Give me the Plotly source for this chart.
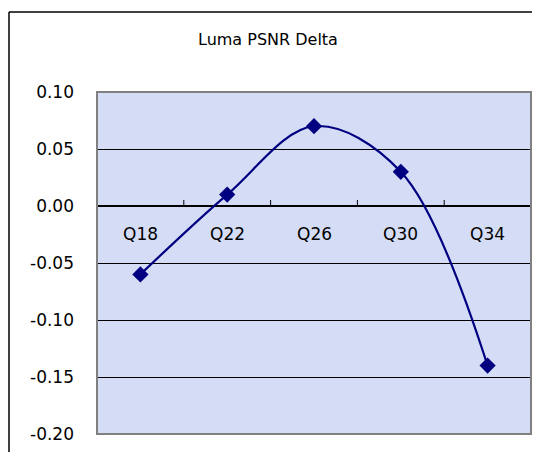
import plotly.graph_objects as go

CATEGORIES = ["Q18", "Q22", "Q26", "Q30", "Q34"]
DELTA = [-0.06, 0.01, 0.07, 0.03, -0.14]
Y_TICKS = [-0.20, -0.15, -0.10, -0.05, 0.00, 0.05, 0.10]

FONT = "DejaVu Sans"
NAVY = "#000080"
# page body adds an 8px margin, so the figure is drawn 16px smaller
W, H = 524, 444

fig = go.Figure()
fig.add_trace(go.Scatter(
    x=list(range(len(CATEGORIES))), y=DELTA, mode="lines+markers",
    line=dict(color=NAVY, width=2.2, shape="spline", smoothing=1.0),
    marker=dict(symbol="diamond", size=12.5, color=NAVY),
    showlegend=False, hoverinfo="y",
))

# category labels sit just under the zero line, Excel style
for i, c in enumerate(CATEGORIES):
    fig.add_annotation(x=i, y=0, text=c, showarrow=False, yshift=-28,
                       font=dict(family=FONT, size=17, color="#000000"))

# little tick marks on the zero line between categories
for i in range(len(CATEGORIES) + 1):
    fig.add_shape(type="line", xref="x", yref="y", x0=i - 0.5, x1=i - 0.5,
                  ysizemode="pixel", yanchor=0, y0=0, y1=6,
                  line=dict(color="#000000", width=1))

# plot area frame
fig.add_shape(type="rect", xref="paper", yref="paper",
              x0=0, x1=1, y0=0, y1=1,
              line=dict(color="#808080", width=2), layer="above")

# outer chart border (only left and top show inside the crop)
fig.add_shape(type="line", xref="paper", yref="paper", x0=-88 / 434, x1=1.05,
              ysizemode="pixel", yanchor=1, y0=80, y1=80,
              line=dict(color="#000000", width=1.5))
fig.add_shape(type="line", xref="paper", yref="paper", x0=-88 / 434, x1=-88 / 434,
              y0=-0.2, y1=1 + 80 / 342,
              line=dict(color="#000000", width=1.5))

fig.add_annotation(text="Luma PSNR Delta", xref="paper", yref="paper",
                   x=(260 - 89) / 434, y=1 + 53 / 342, yanchor="middle",
                   showarrow=False,
                   font=dict(family=FONT, size=16, color="#000000"))

fig.update_layout(
    width=W, height=H,
    margin=dict(l=89, r=1, t=84, b=18, autoexpand=False),
    paper_bgcolor="#ffffff",
    plot_bgcolor="#d5ddf6",
    font=dict(family=FONT, size=17, color="#000000"),
    xaxis=dict(range=[-0.5, len(CATEGORIES) - 0.5],
               showticklabels=False, showgrid=False, zeroline=False,
               showline=False, fixedrange=True),
    yaxis=dict(range=[-0.20, 0.10], automargin=False,
               tickvals=Y_TICKS, ticktext=[f"{v:.2f}" for v in Y_TICKS],
               showgrid=True, gridcolor="#000000", gridwidth=1,
               zeroline=True, zerolinecolor="#000000", zerolinewidth=1.5,
               showline=False, ticks="", ticklabelstandoff=22,
               fixedrange=True),
)

fig.write_html("out.html")
